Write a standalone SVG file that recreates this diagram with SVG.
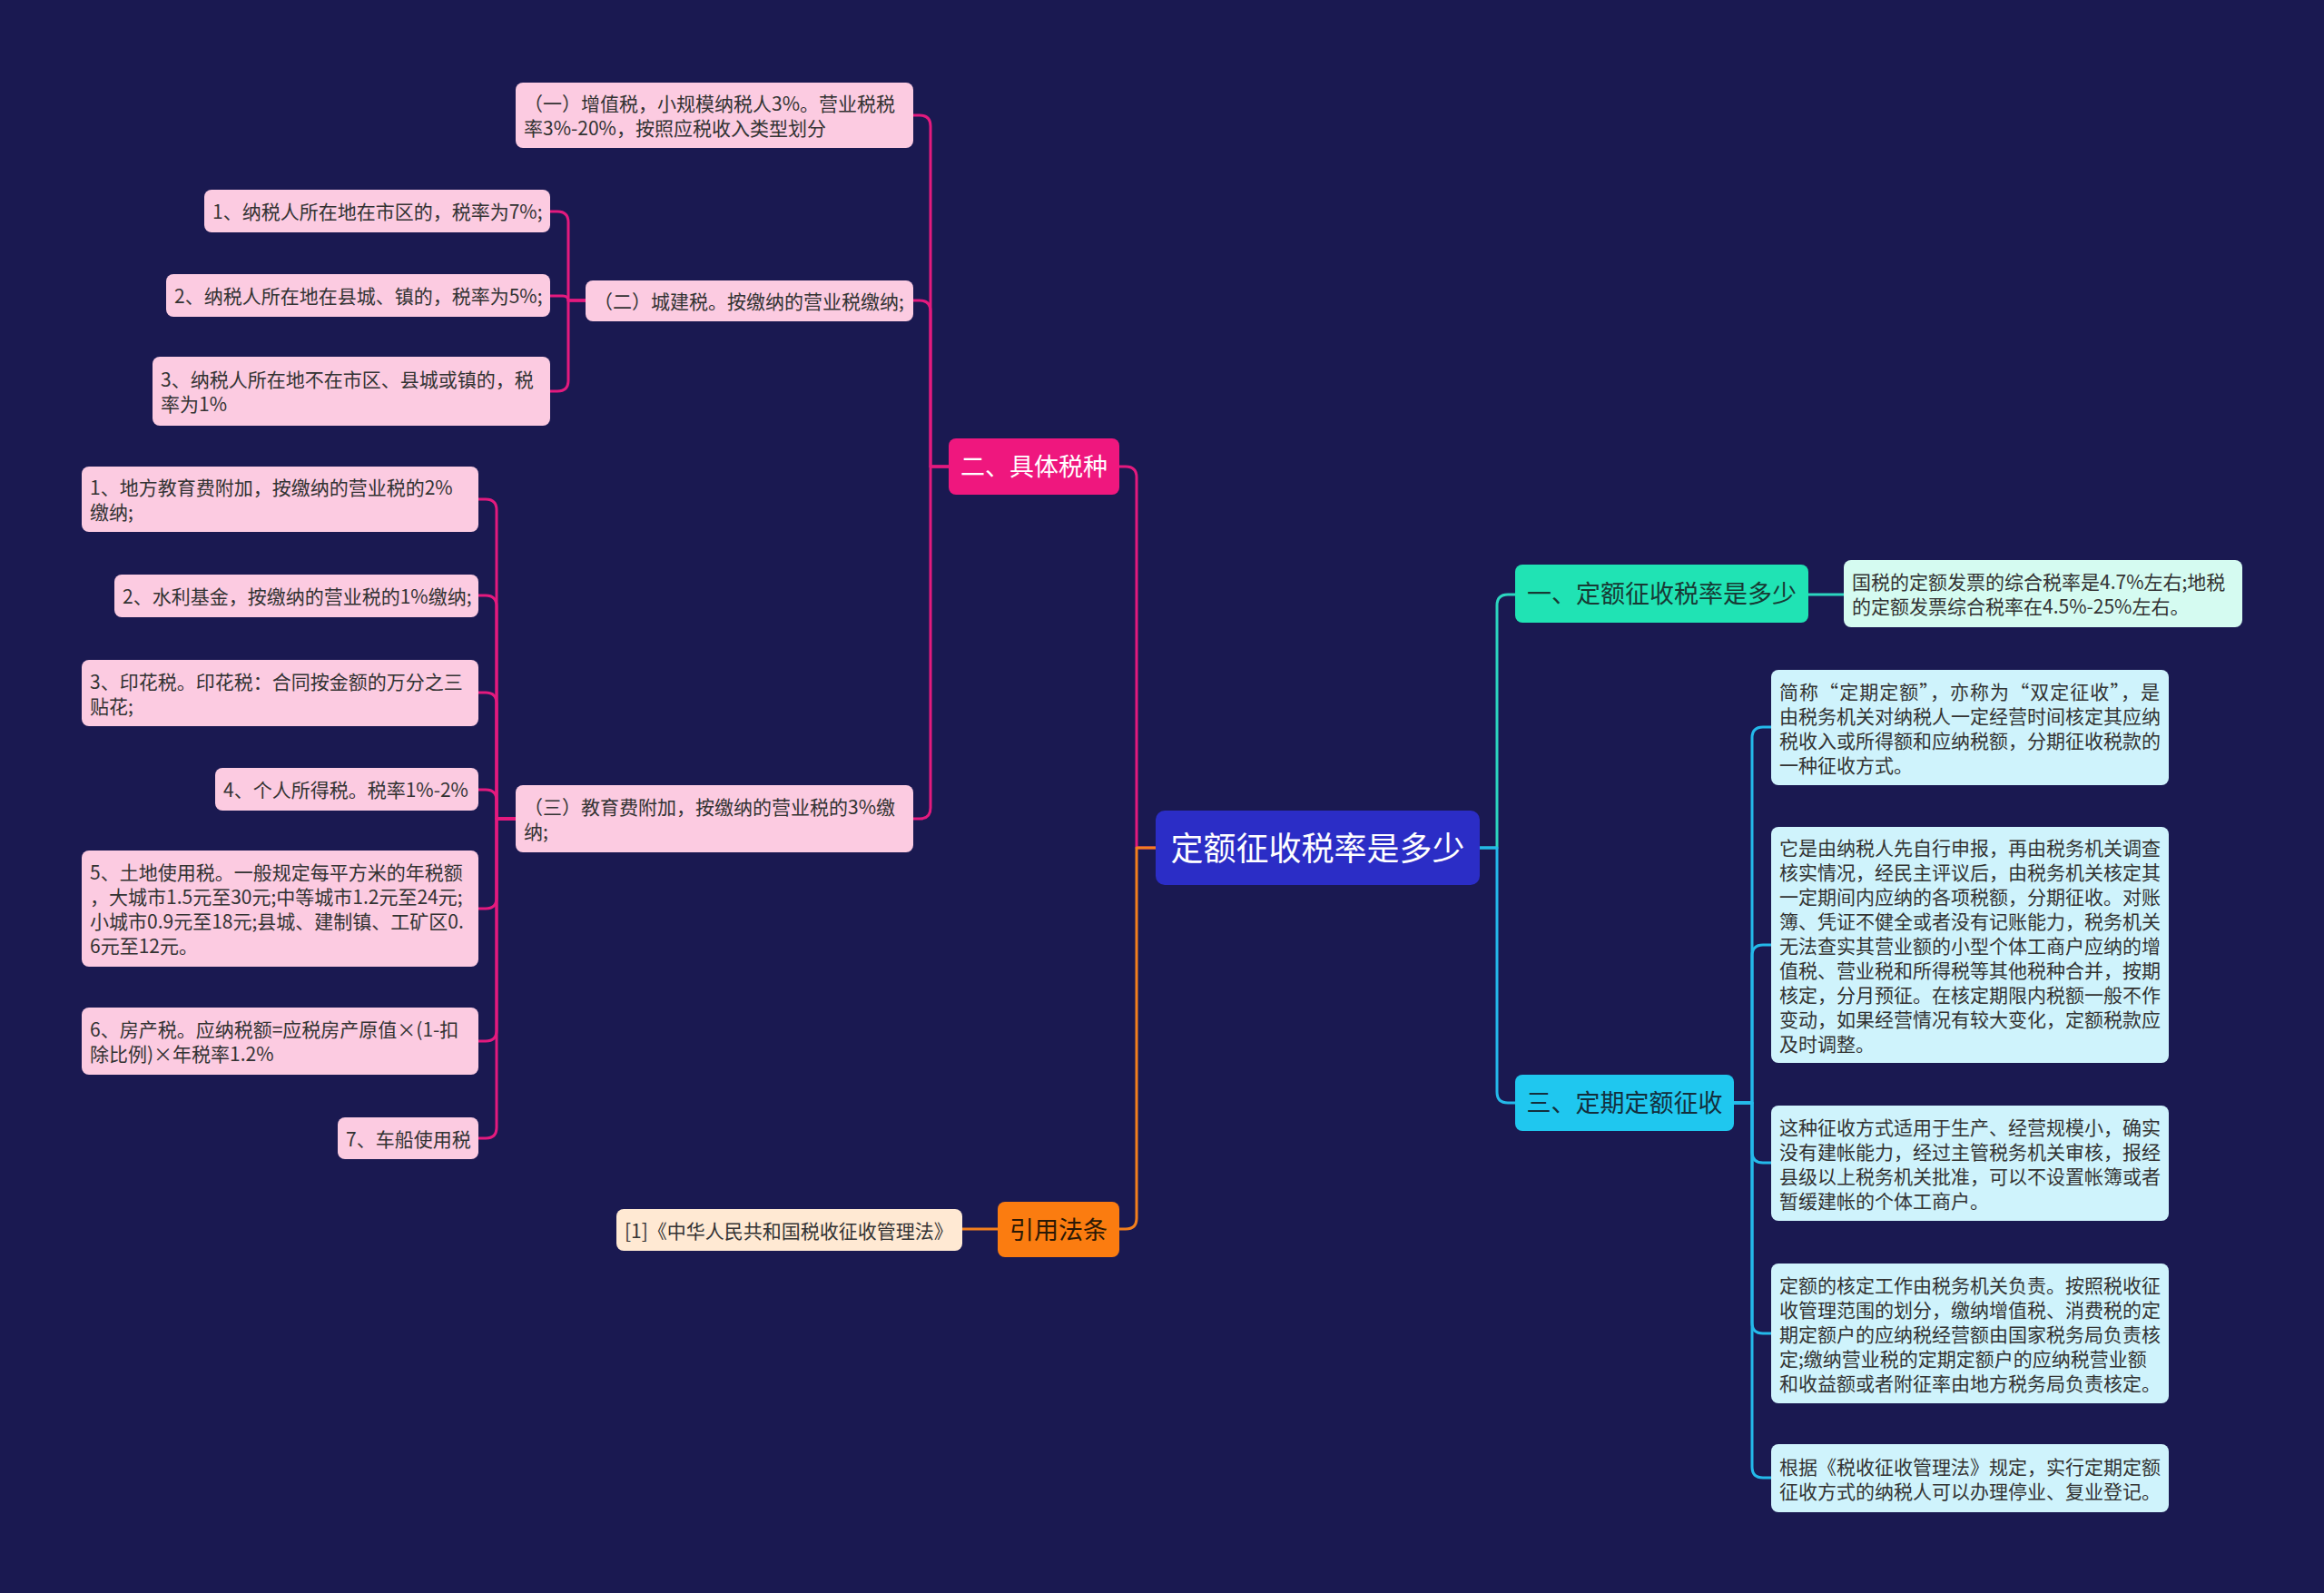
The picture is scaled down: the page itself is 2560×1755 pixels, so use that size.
<svg xmlns="http://www.w3.org/2000/svg" width="2560" height="1755" viewBox="0 0 2560 1755">
<style>
text{font-family:"Noto Sans CJK SC","Noto Sans",sans-serif}
.leaf{font-size:21px;fill:#333333}
.l1{font-size:27px;text-anchor:middle}
.root{font-size:36px;fill:#ffffff;text-anchor:middle}
.pk{fill:#fccbe1}
.or{fill:#ffe9d3}
.tl{fill:#d5fbf1}
.cy{fill:#cff3fc}
.ln{fill:none;stroke-width:3;stroke-linejoin:round;stroke-linecap:round}
.lp{stroke:#e31a7e}
.lo{stroke:#f3801d}
.lt{stroke:#2cd6bf}
.lc{stroke:#24b9ea}
</style>
<rect x="0" y="0" width="2560" height="1755" fill="#1a1951"/>
<g id="connectors">
<path class="ln lp" d="M1273,934 H1252 V526 Q1252,514 1240,514 H1233"/>
<path class="ln lo" d="M1273,934 H1252 V1342 Q1252,1354 1240,1354 H1233"/>
<path class="ln lt" d="M1630,934 H1649 V667 Q1649,655 1661,655 H1669"/>
<path class="ln lc" d="M1630,934 H1649 V1203 Q1649,1215 1661,1215 H1669"/>
<path class="ln lp" d="M1045,514 H1025 V139 Q1025,127 1013,127 H1006"/>
<path class="ln lp" d="M1045,514 H1025 V343 Q1025,331 1013,331 H1006"/>
<path class="ln lp" d="M1045,514 H1025 V890 Q1025,902 1013,902 H1006"/>
<path class="ln lp" d="M645,331 H626 V245 Q626,233 614,233 H606"/>
<path class="ln lp" d="M645,331 H626 Q626,326 620,326 H606"/>
<path class="ln lp" d="M645,331 H626 V419 Q626,431 614,431 H606"/>
<path class="ln lp" d="M568,902 H547 V562 Q547,550 535,550 H527"/>
<path class="ln lp" d="M568,902 H547 V668 Q547,656 535,656 H527"/>
<path class="ln lp" d="M568,902 H547 V775 Q547,763 535,763 H527"/>
<path class="ln lp" d="M568,902 H547 V882 Q547,870 535,870 H527"/>
<path class="ln lp" d="M568,902 H547 V989 Q547,1001 535,1001 H527"/>
<path class="ln lp" d="M568,902 H547 V1135 Q547,1147 535,1147 H527"/>
<path class="ln lp" d="M568,902 H547 V1242 Q547,1254 535,1254 H527"/>
<path class="ln lo" d="M1099,1354 H1060"/>
<path class="ln lt" d="M1992,655 H2031"/>
<path class="ln lc" d="M1910,1215 H1930 V813 Q1930,801 1942,801 H1951"/>
<path class="ln lc" d="M1910,1215 H1930 V1053 Q1930,1041 1942,1041 H1951"/>
<path class="ln lc" d="M1910,1215 H1930 V1269 Q1930,1281 1942,1281 H1951"/>
<path class="ln lc" d="M1910,1215 H1930 V1457 Q1930,1469 1942,1469 H1951"/>
<path class="ln lc" d="M1910,1215 H1930 V1616 Q1930,1628 1942,1628 H1951"/>
</g>
<g id="root">
<rect x="1273" y="893" width="357" height="82" rx="10" fill="#2b2dc6"/>
<text class="root" x="1451.5" y="948">定额征收税率是多少</text>
</g>
<g id="b2">
<rect x="1045" y="483" width="188" height="62" rx="8" fill="#ef177e"/>
<text class="l1" x="1139" y="524" fill="#ffffff">二、具体税种</text>
</g>
<g id="cite">
<rect x="1099" y="1324" width="134" height="61" rx="8" fill="#fb7c10"/>
<text class="l1" x="1166" y="1365" fill="#2a1805">引用法条</text>
</g>
<g id="b1">
<rect x="1669" y="622" width="323" height="64" rx="8" fill="#20e3b4"/>
<text class="l1" x="1830.5" y="664" fill="#173a34">一、定额征收税率是多少</text>
</g>
<g id="b3">
<rect x="1669" y="1184" width="241" height="62" rx="8" fill="#1fc7ef"/>
<text class="l1" x="1789.5" y="1225" fill="#132f3d">三、定期定额征收</text>
</g>
<g id="p1">
<rect class="pk" x="568" y="91" width="438" height="72" rx="8"/>
<text class="leaf" x="577" y="122">（一）增值税，小规模纳税人3%。营业税税</text>
<text class="leaf" x="577" y="149">率3%-20%，按照应税收入类型划分</text>
</g>
<g id="p2">
<rect class="pk" x="645" y="309" width="361" height="45" rx="8"/>
<text class="leaf" x="654" y="340">（二）城建税。按缴纳的营业税缴纳;</text>
</g>
<g id="p2a">
<rect class="pk" x="225" y="209" width="381" height="47" rx="8"/>
<text class="leaf" x="234" y="241">1、纳税人所在地在市区的，税率为7%;</text>
</g>
<g id="p2b">
<rect class="pk" x="183" y="302" width="423" height="47" rx="8"/>
<text class="leaf" x="192" y="334">2、纳税人所在地在县城、镇的，税率为5%;</text>
</g>
<g id="p2c">
<rect class="pk" x="168" y="393" width="438" height="76" rx="8"/>
<text class="leaf" x="177" y="426">3、纳税人所在地不在市区、县城或镇的，税</text>
<text class="leaf" x="177" y="453">率为1%</text>
</g>
<g id="p3">
<rect class="pk" x="568" y="865" width="438" height="74" rx="8"/>
<text class="leaf" x="577" y="897">（三）教育费附加，按缴纳的营业税的3%缴</text>
<text class="leaf" x="577" y="924">纳;</text>
</g>
<g id="p3a">
<rect class="pk" x="90" y="514" width="437" height="72" rx="8"/>
<text class="leaf" x="99" y="545">1、地方教育费附加，按缴纳的营业税的2%</text>
<text class="leaf" x="99" y="572">缴纳;</text>
</g>
<g id="p3b">
<rect class="pk" x="126" y="633" width="401" height="47" rx="8"/>
<text class="leaf" x="135" y="665">2、水利基金，按缴纳的营业税的1%缴纳;</text>
</g>
<g id="p3c">
<rect class="pk" x="90" y="727" width="437" height="73" rx="8"/>
<text class="leaf" x="99" y="758.5">3、印花税。印花税：合同按金额的万分之三</text>
<text class="leaf" x="99" y="785.5">贴花;</text>
</g>
<g id="p3d">
<rect class="pk" x="237" y="846" width="290" height="47" rx="8"/>
<text class="leaf" x="246" y="878">4、个人所得税。税率1%-2%</text>
</g>
<g id="p3e">
<rect class="pk" x="90" y="937" width="437" height="128" rx="8"/>
<text class="leaf" x="99" y="969">5、土地使用税。一般规定每平方米的年税额</text>
<text class="leaf" x="99" y="996">，大城市1.5元至30元;中等城市1.2元至24元;</text>
<text class="leaf" x="99" y="1023">小城市0.9元至18元;县城、建制镇、工矿区0.</text>
<text class="leaf" x="99" y="1050">6元至12元。</text>
</g>
<g id="p3f">
<rect class="pk" x="90" y="1110" width="437" height="74" rx="8"/>
<text class="leaf" x="99" y="1142">6、房产税。应纳税额=应税房产原值×(1-扣</text>
<text class="leaf" x="99" y="1169">除比例)×年税率1.2%</text>
</g>
<g id="p3g">
<rect class="pk" x="372" y="1231" width="155" height="46" rx="8"/>
<text class="leaf" x="381" y="1262.5">7、车船使用税</text>
</g>
<g id="cite1">
<rect class="or" x="679" y="1332" width="381" height="46" rx="8"/>
<text class="leaf" x="688" y="1363.5">[1]《中华人民共和国税收征收管理法》</text>
</g>
<g id="t1">
<rect class="tl" x="2031" y="617" width="439" height="74" rx="8"/>
<text class="leaf" x="2040" y="649">国税的定额发票的综合税率是4.7%左右;地税</text>
<text class="leaf" x="2040" y="676">的定额发票综合税率在4.5%-25%左右。</text>
</g>
<g id="c1">
<rect class="cy" x="1951" y="738" width="438" height="127" rx="8"/>
<text class="leaf" x="1960" y="769.5" textLength="419" lengthAdjust="spacing">简称“定期定额”，亦称为“双定征收”，是</text>
<text class="leaf" x="1960" y="796.5">由税务机关对纳税人一定经营时间核定其应纳</text>
<text class="leaf" x="1960" y="823.5">税收入或所得额和应纳税额，分期征收税款的</text>
<text class="leaf" x="1960" y="850.5">一种征收方式。</text>
</g>
<g id="c2">
<rect class="cy" x="1951" y="911" width="438" height="260" rx="8"/>
<text class="leaf" x="1960" y="941.5">它是由纳税人先自行申报，再由税务机关调查</text>
<text class="leaf" x="1960" y="968.5">核实情况，经民主评议后，由税务机关核定其</text>
<text class="leaf" x="1960" y="995.5">一定期间内应纳的各项税额，分期征收。对账</text>
<text class="leaf" x="1960" y="1022.5">簿、凭证不健全或者没有记账能力，税务机关</text>
<text class="leaf" x="1960" y="1049.5">无法查实其营业额的小型个体工商户应纳的增</text>
<text class="leaf" x="1960" y="1076.5">值税、营业税和所得税等其他税种合并，按期</text>
<text class="leaf" x="1960" y="1103.5">核定，分月预征。在核定期限内税额一般不作</text>
<text class="leaf" x="1960" y="1130.5">变动，如果经营情况有较大变化，定额税款应</text>
<text class="leaf" x="1960" y="1157.5">及时调整。</text>
</g>
<g id="c3">
<rect class="cy" x="1951" y="1218" width="438" height="127" rx="8"/>
<text class="leaf" x="1960" y="1249.5">这种征收方式适用于生产、经营规模小，确实</text>
<text class="leaf" x="1960" y="1276.5">没有建帐能力，经过主管税务机关审核，报经</text>
<text class="leaf" x="1960" y="1303.5">县级以上税务机关批准，可以不设置帐簿或者</text>
<text class="leaf" x="1960" y="1330.5">暂缓建帐的个体工商户。</text>
</g>
<g id="c4">
<rect class="cy" x="1951" y="1392" width="438" height="154" rx="8"/>
<text class="leaf" x="1960" y="1424">定额的核定工作由税务机关负责。按照税收征</text>
<text class="leaf" x="1960" y="1451">收管理范围的划分，缴纳增值税、消费税的定</text>
<text class="leaf" x="1960" y="1478">期定额户的应纳税经营额由国家税务局负责核</text>
<text class="leaf" x="1960" y="1505">定;缴纳营业税的定期定额户的应纳税营业额</text>
<text class="leaf" x="1960" y="1532">和收益额或者附征率由地方税务局负责核定。</text>
</g>
<g id="c5">
<rect class="cy" x="1951" y="1591" width="438" height="75" rx="8"/>
<text class="leaf" x="1960" y="1624">根据《税收征收管理法》规定，实行定期定额</text>
<text class="leaf" x="1960" y="1651">征收方式的纳税人可以办理停业、复业登记。</text>
</g>
</svg>
